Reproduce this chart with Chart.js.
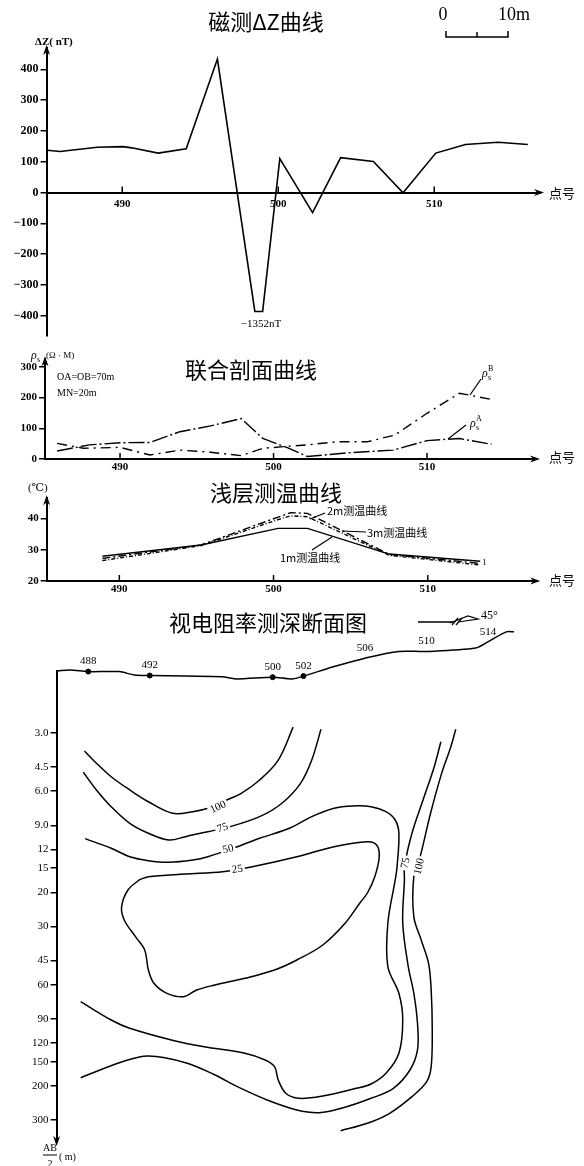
<!DOCTYPE html>
<html>
<head>
<meta charset="utf-8">
<script src="https://cdn.jsdelivr.net/npm/chart.js@4.4.0/dist/chart.umd.min.js"></script>
<style>
  body { margin: 0; background: #fff; width: 584px; height: 1166px; position: relative; overflow: hidden; }
  canvas { position: absolute; left: 0; }
</style>
</head>
<body>
<canvas id="c1" width="584" height="345" style="top:0px"></canvas>
<canvas id="c2" width="584" height="135" style="top:345px"></canvas>
<canvas id="c3" width="584" height="120" style="top:480px"></canvas>
<canvas id="c4" width="584" height="566" style="top:600px"></canvas>
<script>
// ---------- 磁测ΔZ曲线 ----------
const magX = [485.2, 486.0, 488.4, 490.05, 490.6, 492.3, 494.1, 496.1, 498.5, 499.0, 500.1, 502.2, 504.0, 506.1, 508.0, 510.1, 512.0, 514.1, 516.0];
const magZ = [137, 133, 147, 149, 145, 128, 142, 433, -386, -386, 110, -65, 113, 101, -1, 128, 156, 163, 156];
const magTicks = [-400, -300, -200, -100, 0, 100, 200, 300, 400];
const pointTicks = [490, 500, 510];

// ---------- 联合剖面曲线 ----------
const rhoAX = [485.9, 488.0, 490.0, 491.95, 493.9, 495.9, 497.9, 499.3, 500.9, 502.2, 504.8, 507.8, 510.0, 512.1, 514.2];
const rhoA  = [26, 46, 53, 54, 89, 108, 132, 67, 37, 8, 20, 29, 60, 67, 48];
const rhoBX = [485.9, 487.6, 490.0, 491.95, 493.9, 495.9, 497.9, 499.3, 502.2, 504.1, 506.1, 507.9, 510.0, 512.1, 512.8, 514.2];
const rhoB  = [51, 35, 38, 13, 29, 22, 11, 35, 46, 56, 56, 78, 149, 214, 208, 194];
const rhoTicks = [0, 100, 200, 300];

// ---------- 浅层测温曲线 ----------
const tempX  = [488.9, 495.3, 500.3, 501.1, 502.2, 507.5, 513.4];
const temp1m = [27.9, 31.5, 36.8, 36.8, 36.8, 28.6, 26.3];
const temp2m = [27.2, 31.5, 40.4, 41.8, 41.6, 28.5, 25.6];
const temp3m = [26.5, 31.3, 39.6, 40.8, 40.5, 28.2, 25.1];
const tempTicks = [20, 30, 40];

// ---------- 视电阻率测深断面图 ----------
const depthTicks = [3, 4.5, 6, 9, 12, 15, 20, 30, 45, 60, 90, 120, 150, 200, 300];
const topoX = [486.0, 486.8, 488.0, 490.0, 491.0, 492.0, 494.3, 496.7, 497.6, 500.0, 501.3, 502.0, 504.0, 506.0, 508.2, 510.0, 513.2, 514.0, 515.2, 515.7];
const topoH = [1.6, 1.8, 1.5, 1.5, 0.9, 0.8, 0.7, 0.6, 0.2, 0.5, 0.2, 0.7, 2.4, 3.9, 5.1, 5.1, 5.7, 6.8, 8.6, 8.6];
const stations = [488, 492, 500, 502, 506, 510, 514];
const stationH = [1.5, 0.8, 0.5, 0.7, 3.9, 5.1, 6.8];

const c100aX = [487.75, 488.53, 489.49, 490.70, 491.91, 493.48, 494.80, 496.01, 496.74, 497.95, 499.15, 500.36, 501.33];
const c100aY = [3.72, 4.30, 5.05, 5.91, 6.80, 7.80, 7.65, 7.26, 6.80, 6.15, 5.25, 4.14, 2.80];
const c75aX = [487.68, 488.53, 489.49, 490.70, 491.91, 493.24, 494.33, 495.78, 497.22, 499.15, 500.60, 501.81, 502.54, 503.14];
const c75aY = [4.79, 5.91, 7.21, 8.79, 9.89, 10.72, 10.30, 9.71, 9.15, 8.12, 6.92, 5.46, 4.14, 2.87];
const c50X = [487.80, 489.49, 490.70, 491.91, 493.24, 494.80, 495.78, 497.70, 499.15, 501.09, 502.54, 503.99, 505.20, 506.40, 507.37, 507.97, 508.21, 508.09, 507.97, 507.49, 507.49, 508.21, 508.46, 508.21, 507.37, 506.40, 505.43, 503.26, 501.69, 500.85, 500.36, 500.12, 499.51, 498.19, 495.53, 493.60, 490.70, 489.49, 487.51];
const c50Y = [10.55, 11.83, 13.08, 13.71, 13.97, 13.60, 13.08, 11.61, 10.50, 9.32, 8.12, 7.35, 7.15, 7.21, 7.65, 8.45, 9.89, 14.73, 17.25, 28.88, 48.40, 66.44, 91.26, 135.6, 172.1, 195.5, 205.8, 225.5, 231.7, 218.3, 186.4, 159.1, 146.9, 135.6, 125.4, 116.8, 100.7, 91.26, 73.4];
const c25X = [491.30, 491.91, 494.33, 496.74, 498.67, 501.57, 503.99, 506.16, 506.76, 506.93, 506.64, 506.16, 505.67, 504.71, 503.26, 501.57, 500.12, 498.19, 496.25, 495.05, 494.20, 493.12, 492.27, 491.91, 491.67, 491.07, 490.34, 490.17, 490.58, 491.30];
const c25Y = [17.25, 16.58, 16.06, 15.63, 14.73, 13.08, 11.61, 10.94, 11.37, 13.08, 16.58, 20.14, 22.68, 28.88, 37.39, 44.69, 50.34, 55.56, 60.17, 63.89, 69.18, 66.44, 58.96, 50.34, 39.67, 33.87, 27.76, 23.71, 19.43, 17.25];
const c75bX = [510.94, 510.51, 509.78, 509.06, 508.57, 508.57, 508.46, 508.82, 509.18, 509.42, 509.42, 508.93, 507.85, 506.40, 504.47, 503.02, 501.57, 499.64, 497.70, 496.25, 494.33, 491.91, 490.22, 487.51];
const c75bY = [3.33, 4.48, 6.66, 9.89, 14.73, 17.25, 28.77, 48.40, 66.2, 94.9, 130.4, 165.5, 205.8, 231.7, 261.0, 275.0, 266.3, 236.5, 201.8, 175.6, 151.7, 140.1, 149.9, 181.3];
const c100bX = [511.91, 511.59, 510.99, 510.27, 509.54, 509.18, 509.18, 509.66, 510.14, 510.31, 510.38, 510.31, 510.02, 509.06, 507.61, 506.16, 504.42];
const c100bY = [2.87, 3.53, 4.85, 7.80, 13.60, 16.58, 26.70, 35.23, 46.48, 63.89, 102.8, 159.1, 190.2, 227.3, 277.0, 312.0, 340.7];

const labText = ['100', '75', '50', '25', '75', '100'];
const labX = [496.45, 496.74, 497.10, 497.70, 508.65, 509.54];
const labY = [7.26, 9.3, 11.97, 15.19, 14.1, 14.7];
const labRot = [-25, -18, -12, -8, -78, -76];

const SERIF = "'Liberation Serif', 'DejaVu Serif', serif";
const CJK = "'Noto Sans CJK SC', sans-serif";
Chart.defaults.color = '#000';
Chart.defaults.font.family = SERIF;

function pts(xs, ys) { return xs.map((x, i) => ({ x: x, y: ys[i] })); }

function txt(ctx, s, x, y, font, align, rot, bg) {
  ctx.save();
  ctx.translate(x, y);
  if (rot) ctx.rotate(rot * Math.PI / 180);
  ctx.font = font;
  ctx.textAlign = align || 'center';
  ctx.textBaseline = 'middle';
  if (bg) {
    const w = ctx.measureText(s).width;
    const x0 = align === 'left' ? 0 : (align === 'right' ? -w : -w / 2);
    ctx.fillStyle = '#fff';
    ctx.fillRect(x0 - 2, -6, w + 4, 12);
  }
  ctx.fillStyle = '#000';
  ctx.fillText(s, 0, 0);
  ctx.restore();
}

function seg(ctx, p, w) {
  ctx.save();
  ctx.strokeStyle = '#000';
  ctx.lineWidth = w || 1;
  ctx.setLineDash([]);
  ctx.beginPath();
  ctx.moveTo(p[0], p[1]);
  for (let i = 2; i < p.length; i += 2) ctx.lineTo(p[i], p[i + 1]);
  ctx.stroke();
  ctx.restore();
}

// tip of the arrow at (x, y)
function arrow(ctx, x, y, dir) {
  ctx.save();
  ctx.fillStyle = '#000';
  ctx.translate(x, y);
  ctx.rotate({ up: 0, right: Math.PI / 2, down: Math.PI }[dir]);
  ctx.beginPath();
  ctx.moveTo(0, 0); ctx.lineTo(3.5, 10); ctx.lineTo(0, 7); ctx.lineTo(-3.5, 10);
  ctx.closePath();
  ctx.fill();
  ctx.restore();
}

function upTicks(chart, base) {
  const x = chart.scales.x, py = chart.scales.y.getPixelForValue(base);
  x.ticks.forEach(t => {
    const px = x.getPixelForValue(t.value);
    seg(chart.ctx, [px, py, px, py - 6], 1.5);
  });
}

function rho(ctx, x, y, sup) {
  txt(ctx, 'ρ', x, y, 'italic 12px ' + SERIF, 'left');
  txt(ctx, 's', x + 6, y + 4, '8px ' + SERIF, 'left');
  if (sup) txt(ctx, sup, x + 6, y - 5, '8px ' + SERIF, 'left');
}

function yAxis(min, max, ticks, width, font, fmt) {
  return {
    type: 'linear', min: min, max: max,
    afterBuildTicks: s => { s.ticks = ticks.map(v => ({ value: v })); },
    afterFit: s => { s.width = width; },
    grid: { display: true, drawOnChartArea: false, drawTicks: true, tickLength: 6, color: '#000', lineWidth: 1.5 },
    border: { display: true, color: '#000', width: 2 },
    ticks: { color: '#000', font: font, padding: 2, callback: fmt || (v => v) }
  };
}

// x axis of the profile panels; h = room kept below the axis for the labels
function xAxis(min, max, pad, h, extra) {
  return Object.assign({
    type: 'linear', min: min, max: max,
    afterBuildTicks: s => { s.ticks = pointTicks.map(v => ({ value: v })); },
    afterFit: s => { s.height = h; },
    grid: { display: false, drawTicks: false },
    border: { display: true, color: '#000', width: 2 },
    ticks: { color: '#000', font: { size: 11, weight: 'bold' }, padding: pad, maxRotation: 0, autoSkip: false }
  }, extra || {});
}

const base = {
  responsive: false,
  animation: false,
  devicePixelRatio: 1,
  plugins: { legend: { display: false }, tooltip: { enabled: false } }
};

// ===== 1. 磁测ΔZ曲线 =====
new Chart(document.getElementById('c1'), {
  type: 'scatter',
  data: {
    datasets: [{
      data: pts(magX, magZ), showLine: true, borderColor: '#000', borderWidth: 1.6,
      pointRadius: 0, tension: 0
    }]
  },
  options: Object.assign({}, base, {
    layout: { padding: { left: 0, right: 44, top: 48, bottom: 8.3 } },
    scales: {
      x: xAxis(485.15, 516.78, 5, 0, { position: { y: 0 } }),
      y: yAxis(-465, 469, magTicks, 46.6, { size: 12, weight: 'bold' }, v => String(v).replace('-', '−'))
    }
  }),
  plugins: [{
    id: 'mag',
    afterDraw(c) {
      const ctx = c.ctx, a = c.chartArea, y0 = c.scales.y.getPixelForValue(0);
      upTicks(c, 0);
      arrow(ctx, a.left, a.top - 3, 'up');
      arrow(ctx, a.right + 4, y0, 'right');
      txt(ctx, '磁测ΔZ曲线', 266, 22, '22px ' + CJK);
      txt(ctx, 'ΔZ( nT)', 35, 42, 'bold 11px ' + SERIF, 'left');
      txt(ctx, '−1352nT', 261, 324, '11px ' + SERIF);
      txt(ctx, '点号', 549, 193, '13px ' + CJK, 'left');
      // 比例尺
      txt(ctx, '0', 443, 15, '18px ' + SERIF);
      txt(ctx, '10m', 514, 15, '18px ' + SERIF);
      seg(ctx, [446, 31, 446, 37, 508, 37, 508, 31], 1.5);
      seg(ctx, [477, 37, 477, 32], 1.5);
    }
  }]
});

// ===== 2. 联合剖面曲线 =====
new Chart(document.getElementById('c2'), {
  type: 'scatter',
  data: {
    datasets: [
      { data: pts(rhoAX, rhoA), showLine: true, borderColor: '#000', borderWidth: 1.4, borderDash: [16, 3, 2, 3], pointRadius: 0 },
      { data: pts(rhoBX, rhoB), showLine: true, borderColor: '#000', borderWidth: 1.4, borderDash: [10, 5, 2, 5], pointRadius: 0 }
    ]
  },
  options: Object.assign({}, base, {
    layout: { padding: { left: 0, right: 48, top: 14.3, bottom: 0 } },
    scales: {
      x: xAxis(485.11, 517.1, 2, 21),
      y: yAxis(0, 325, rhoTicks, 45, { size: 11, weight: 'bold' })
    }
  }),
  plugins: [{
    id: 'rho',
    afterDraw(c) {
      const ctx = c.ctx, a = c.chartArea;
      upTicks(c, 0);
      arrow(ctx, a.left, a.top - 3, 'up');
      arrow(ctx, a.right + 4, a.bottom, 'right');
      txt(ctx, '联合剖面曲线', 251, 25, '22px ' + CJK);
      rho(ctx, 31, 11);
      txt(ctx, '(Ω · M)', 46, 11, '9px ' + SERIF, 'left');
      txt(ctx, 'OA=OB=70m', 57, 32, '10px ' + SERIF, 'left');
      txt(ctx, 'MN=20m', 57, 48, '10px ' + SERIF, 'left');
      rho(ctx, 482, 29, 'B');
      seg(ctx, [481, 34, 470, 50], 1.2);
      rho(ctx, 470, 79, 'A');
      seg(ctx, [466, 80, 448, 94], 1.2);
      txt(ctx, '点号', 549, 112, '13px ' + CJK, 'left');
    }
  }]
});

// ===== 3. 浅层测温曲线 =====
new Chart(document.getElementById('c3'), {
  type: 'scatter',
  data: {
    datasets: [
      { data: pts(tempX, temp1m), showLine: true, borderColor: '#000', borderWidth: 1.4, pointRadius: 0 },
      { data: pts(tempX, temp2m), showLine: true, borderColor: '#000', borderWidth: 1.4, borderDash: [8, 3, 2, 3], pointRadius: 0 },
      { data: pts(tempX, temp3m), showLine: true, borderColor: '#000', borderWidth: 1.4, borderDash: [4, 2, 1, 2], pointRadius: 0 }
    ]
  },
  options: Object.assign({}, base, {
    layout: { padding: { left: 0, right: 47.7, top: 18.3, bottom: 0 } },
    scales: {
      x: xAxis(485.29, 517.04, 2, 19),
      y: yAxis(20, 46.4, tempTicks, 46.7, { size: 11, weight: 'bold' })
    }
  }),
  plugins: [{
    id: 'temp',
    afterDraw(c) {
      const ctx = c.ctx, a = c.chartArea;
      upTicks(c, 20);
      arrow(ctx, a.left, a.top - 3, 'up');
      arrow(ctx, a.right + 4, a.bottom, 'right');
      txt(ctx, '浅层测温曲线', 276, 13, '22px ' + CJK);
      txt(ctx, '(℃)', 28, 8, '11px ' + SERIF, 'left');
      txt(ctx, '2m测温曲线', 327, 31, '11px ' + CJK, 'left');
      seg(ctx, [325, 33, 310, 39], 1.2);
      txt(ctx, '3m测温曲线', 367, 53, '11px ' + CJK, 'left');
      seg(ctx, [366, 52, 342, 51], 1.2);
      txt(ctx, '1m测温曲线', 280, 78, '11px ' + CJK, 'left');
      seg(ctx, [312, 70, 332, 57], 1.2);
      txt(ctx, '1', 482, 83, '9px ' + SERIF, 'left');
      txt(ctx, '点号', 549, 100, '13px ' + CJK, 'left');
    }
  }]
});

// ===== 4. 视电阻率测深断面图 =====
function contour(xs, ys) {
  return { data: pts(xs, ys), showLine: true, borderColor: '#000', borderWidth: 1.5, pointRadius: 0, tension: 0.35 };
}
new Chart(document.getElementById('c4'), {
  type: 'scatter',
  data: {
    datasets: [
      contour(c100aX, c100aY), contour(c75aX, c75aY), contour(c50X, c50Y),
      contour(c25X, c25Y), contour(c75bX, c75bY), contour(c100bX, c100bY),
      { data: pts(topoX, topoH), yAxisID: 'yt', showLine: true, borderColor: '#000', borderWidth: 1.5, pointRadius: 0, tension: 0.3, clip: false },
      { data: pts(stations, stationH), yAxisID: 'yt', showLine: false, pointRadius: 2.5, pointBackgroundColor: '#000', pointBorderColor: '#000', clip: false }
    ]
  },
  options: Object.assign({}, base, {
    layout: { padding: { left: 0, right: 44, top: 71, bottom: 26 } },
    scales: {
      x: { type: 'linear', min: 485.94, max: 517.39, display: false },
      y: Object.assign(yAxis(1.435, 380.6, depthTicks, 56.6, { size: 11 }, v => v < 10 ? v.toFixed(1) : String(v)),
        { type: 'logarithmic', reverse: true }),
      yt: { type: 'linear', min: -82.14, max: 1.607, display: false }
    }
  }),
  plugins: [{
    id: 'sect',
    afterDraw(c) {
      const ctx = c.ctx, a = c.chartArea, x = c.scales.x, y = c.scales.y, yt = c.scales.yt;
      arrow(ctx, a.left, a.bottom + 6, 'down');
      labText.forEach((s, i) => {
        txt(ctx, s, x.getPixelForValue(labX[i]), y.getPixelForValue(labY[i]), '11px ' + SERIF, 'center', labRot[i], true);
      });
      stations.forEach((s, i) => {
        txt(ctx, String(s), x.getPixelForValue(s), yt.getPixelForValue(stationH[i]) - 10, '11px ' + SERIF);
      });
      txt(ctx, '视电阻率测深断面图', 268, 23, '22px ' + CJK);
      // 产状符号
      seg(ctx, [418, 22, 453, 22], 1.5);
      seg(ctx, [450, 23, 468, 16, 478, 19, 458, 22], 1.2);
      seg(ctx, [452, 25, 458, 18], 1.2);
      seg(ctx, [456, 25, 462, 18], 1.2);
      txt(ctx, '45°', 481, 16, '12px ' + SERIF, 'left');
      // AB/2 (m)
      txt(ctx, 'AB', 50, 548, '10px ' + SERIF);
      seg(ctx, [43, 555, 57, 555], 1);
      txt(ctx, '2', 50, 564, '10px ' + SERIF);
      txt(ctx, '( m)', 59, 557, '10px ' + SERIF, 'left');
    }
  }]
});
</script>
</body>
</html>
